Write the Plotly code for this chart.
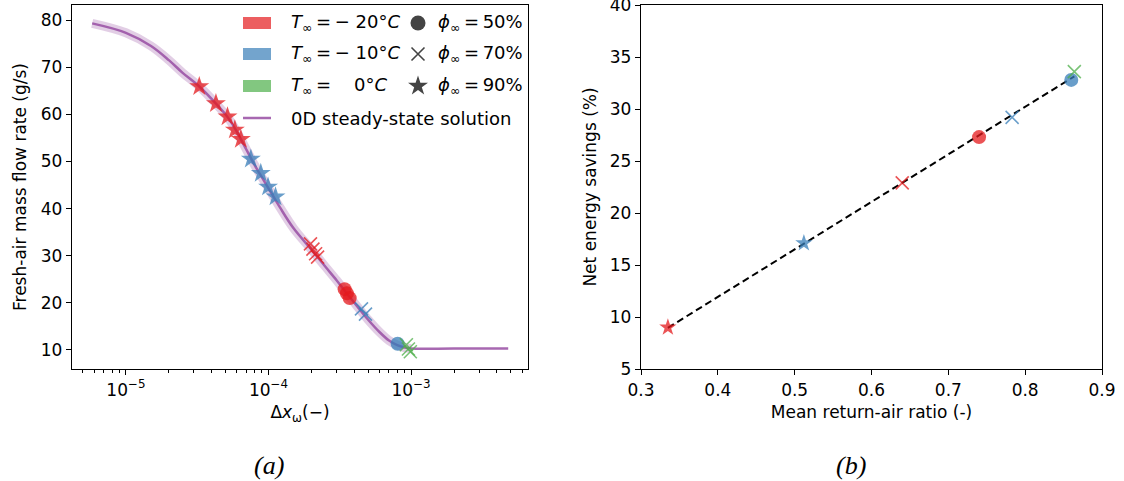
import numpy as np
import plotly.graph_objects as go

# ---------------- data ----------------
# Panel (a): 0D steady-state solution
curve_dx = [5.8e-6, 1.0e-5, 1.5e-5, 2.0e-5, 2.5e-5, 3.3e-5, 4.3e-5, 5.2e-5, 6.0e-5,
            7.0e-5, 8.0e-5, 9.0e-5, 1.0e-4, 1.2e-4, 1.5e-4, 2.0e-4, 2.5e-4, 3.0e-4,
            3.5e-4, 4.0e-4, 5.0e-4, 6.0e-4, 7.0e-4, 8.0e-4, 9.0e-4, 1.0e-3, 2.0e-3, 4.8e-3]
curve_m = [79.3, 77.3, 74.5, 71.5, 68.8, 65.8, 62.2, 59.3, 56.3,
           52.5, 49.2, 46.6, 44.3, 40.3, 35.8, 31.3, 27.7, 24.8,
           22.2, 20.0, 16.4, 13.8, 12.0, 11.0, 10.5, 10.3, 10.3, 10.3]

# Panel (a): simulation points
red_star_dx = [3.27e-5, 4.28e-5, 5.16e-5, 5.81e-5, 6.4e-5]
red_star_m = [65.9, 62.3, 59.5, 56.7, 54.7]
blue_star_dx = [7.52e-5, 8.83e-5, 9.93e-5, 1.12e-4]
blue_star_m = [50.5, 47.5, 44.6, 42.5]
red_x_dx = [1.97e-4, 2.05e-4, 2.14e-4, 2.21e-4]
red_x_m = [32.5, 31.4, 30.4, 29.7]
red_o_dx = [3.42e-4, 3.55e-4, 3.71e-4]
red_o_m = [22.9, 22.0, 21.0]
blue_x_dx = [4.49e-4, 4.79e-4]
blue_x_m = [18.7, 17.6]
blue_o_dx = [8.05e-4]
blue_o_m = [11.3]
green_x_dx = [9.27e-4, 9.58e-4, 9.88e-4]
green_x_m = [11.1, 10.2, 9.6]

# Panel (b): mean return-air ratio vs net energy savings
b_ratio = [0.335, 0.512, 0.64, 0.74, 0.783, 0.86, 0.864]
b_savings = [9.0, 17.1, 22.9, 27.3, 29.2, 32.8, 33.6]
b_temp = ["-20", "-10", "-20", "-20", "-10", "-10", "0"]
b_phi = [90, 90, 70, 50, 70, 50, 70]

# axis ticks
a_xticks = [1e-5, 1e-4, 1e-3]
a_xticktext = ["10<sup>−5</sup>", "10<sup>−4</sup>", "10<sup>−3</sup>"]
a_yticks = [10, 20, 30, 40, 50, 60, 70, 80]
b_xticks = [0.3, 0.4, 0.5, 0.6, 0.7, 0.8, 0.9]
b_yticks = [5, 10, 15, 20, 25, 30, 35, 40]

# ---------------- style ----------------
W, H = 1124, 481
FONT = "DejaVu Sans"
RED = "rgba(228,26,28,0.75)"
BLUE = "rgba(55,126,184,0.75)"
GREEN = "rgba(77,175,74,0.75)"
PURPLE = "rgba(152,78,163,0.85)"
PURPLE_BAND = "rgba(152,78,163,0.28)"
temp_color = {"-20": RED, "-10": BLUE, "0": GREEN}
phi_symbol = {50: "circle", 70: "x-thin", 90: "star"}


def xd(px):
    return px / W


def yd(py):
    return 1 - py / H


fig = go.Figure()

# band + curve
n_band = sum(1 for v in curve_dx if v <= 1.0e-3)
fig.add_trace(go.Scatter(x=curve_dx[:n_band], y=curve_m[:n_band], mode="lines",
                         line=dict(color=PURPLE_BAND, width=9, shape="spline"),
                         xaxis="x", yaxis="y", showlegend=False))
fig.add_trace(go.Scatter(x=curve_dx, y=curve_m, mode="lines",
                         line=dict(color=PURPLE, width=2.5, shape="spline"),
                         xaxis="x", yaxis="y", showlegend=False))


def add_pts(xs, ys, color, symbol, xa, ya, size):
    if symbol == "x-thin":
        marker = dict(symbol="x-thin", size=size, color=color,
                      line=dict(color=color, width=1.6))
    else:
        marker = dict(symbol=symbol, size=size, color=color, line=dict(width=0))
    fig.add_trace(go.Scatter(x=xs, y=ys, mode="markers", marker=marker,
                             xaxis=xa, yaxis=ya, showlegend=False))


add_pts(red_star_dx, red_star_m, RED, "star", "x", "y", 15)
add_pts(blue_star_dx, blue_star_m, BLUE, "star", "x", "y", 15)
add_pts(red_x_dx, red_x_m, RED, "x-thin", "x", "y", 13)
add_pts(red_o_dx, red_o_m, RED, "circle", "x", "y", 14)
add_pts(blue_x_dx, blue_x_m, BLUE, "x-thin", "x", "y", 13)
add_pts(blue_o_dx, blue_o_m, BLUE, "circle", "x", "y", 14)
add_pts(green_x_dx, green_x_m, GREEN, "x-thin", "x", "y", 13)

# panel (b) fit line
coef = np.polyfit(b_ratio, b_savings, 1)
fx = [min(b_ratio), max(b_ratio)]
fy = [coef[0] * v + coef[1] for v in fx]
fig.add_trace(go.Scatter(x=fx, y=fy, mode="lines",
                         line=dict(color="black", width=2, dash="7px,4px"),
                         xaxis="x2", yaxis="y2", showlegend=False))
for r, s, t, p in zip(b_ratio, b_savings, b_temp, b_phi):
    add_pts([r], [s], temp_color[t], phi_symbol[p], "x2", "y2",
            14 if p == 50 else 13)

# ---------------- axes ----------------
ydom = [yd(369), yd(5)]
common = dict(showline=True, mirror=True, linecolor="black", linewidth=1.3,
              ticks="outside", ticklen=5, tickwidth=1.2, tickcolor="black",
              showgrid=False, zeroline=False, automargin=False,
              ticklabeloverflow="allow",
              tickfont=dict(family=FONT, size=17, color="black"))

minor_vals = []
for e in range(-6, -1):
    for k in range(2, 10):
        minor_vals.append(k * 10.0 ** e)

fig.update_layout(
    width=W, height=H, margin=dict(l=0, r=0, t=0, b=0, autoexpand=False),
    plot_bgcolor="rgba(0,0,0,0)", paper_bgcolor="white",
    xaxis=dict(domain=[xd(72), xd(528)], type="log", range=[-5.378, -2.18],
               tickvals=a_xticks, ticktext=a_xticktext, anchor="y",
               minor=dict(tickvals=minor_vals, ticks="outside", ticklen=3,
                          tickwidth=1, tickcolor="black", showgrid=False),
               title=dict(text="Δ<i>x</i><sub>ω</sub>(−)", standoff=7,
                          font=dict(family=FONT, size=17, color="black")),
               **common),
    yaxis=dict(domain=ydom, range=[5.95, 83.2], tickvals=a_yticks, anchor="x",
               title=dict(text="Fresh-air mass flow rate (g/s)", standoff=9,
                          font=dict(family=FONT, size=17, color="black")),
               **common),
    xaxis2=dict(domain=[xd(641), xd(1102)], range=[0.3, 0.9], tickvals=b_xticks,
                tickformat=".1f", anchor="y2",
                title=dict(text="Mean return-air ratio (-)", standoff=7,
                           font=dict(family=FONT, size=17, color="black")),
                **common),
    yaxis2=dict(domain=ydom, range=[5, 40], tickvals=b_yticks, anchor="x2",
                title=dict(text="Net energy savings (%)", standoff=8,
                           font=dict(family=FONT, size=17, color="black")),
                **common),
    xaxis3=dict(domain=[0, 1], range=[0, W], visible=False, anchor="y3",
                fixedrange=True),
    yaxis3=dict(domain=[0, 1], range=[H, 0], visible=False, anchor="x3",
                fixedrange=True),
)

# ---------------- legend (manual) ----------------
leg_rows = [23, 54, 86, 118]
leg_temps = ["-20", "-10", "0"]
leg_ttext = ["<i>T</i><sub>∞</sub>\u2009=\u2009−\u00a020°<i>C</i>",
             "<i>T</i><sub>∞</sub>\u2009=\u2009−\u00a010°<i>C</i>",
             "<i>T</i><sub>∞</sub>\u2009=\u00a0\u00a0\u00a0\u00a00°<i>C</i>"]
leg_phis = [50, 70, 90]
leg_ptext = ["<i>ϕ</i><sub>∞</sub>\u2009=\u200950%",
             "<i>ϕ</i><sub>∞</sub>\u2009=\u200970%",
             "<i>ϕ</i><sub>∞</sub>\u2009=\u200990%"]
LEG_PATCH = {"-20": "rgba(228,26,28,0.7)", "-10": "rgba(55,126,184,0.7)",
             "0": "rgba(77,175,74,0.7)"}

for row, t, tt, p, pt in zip(leg_rows, leg_temps, leg_ttext, leg_phis, leg_ptext):
    fig.add_shape(type="rect", xref="x3", yref="y3", x0=243, x1=271,
                  y0=row - 6, y1=row + 6, fillcolor=LEG_PATCH[t], line=dict(width=0))
    fig.add_annotation(xref="x3", yref="y3", x=289, y=row, text=tt, showarrow=False,
                       xanchor="left", yanchor="middle",
                       font=dict(family=FONT, size=18, color="black"))
    fig.add_annotation(xref="x3", yref="y3", x=436, y=row, text=pt, showarrow=False,
                       xanchor="left", yanchor="middle",
                       font=dict(family=FONT, size=18, color="black"))
    sym = phi_symbol[p]
    if sym == "x-thin":
        mk = dict(symbol=sym, size=13, color="#444", line=dict(color="#444", width=1.6))
    else:
        mk = dict(symbol=sym, size=15, color="#444", line=dict(width=0))
    fig.add_trace(go.Scatter(x=[418], y=[row], mode="markers", marker=mk,
                             xaxis="x3", yaxis="y3", showlegend=False))

fig.add_shape(type="line", xref="x3", yref="y3", x0=243, x1=271, y0=leg_rows[3],
              y1=leg_rows[3], line=dict(color=PURPLE, width=2.5))
fig.add_annotation(xref="x3", yref="y3", x=289, y=leg_rows[3],
                   text="0D steady-state solution", showarrow=False,
                   xanchor="left", yanchor="middle",
                   font=dict(family=FONT, size=18, color="black"))

# panel labels
for lx, lab in [(269, "(a)"), (851, "(b)")]:
    fig.add_annotation(xref="paper", yref="paper", x=xd(lx), y=yd(465),
                       text="<i>" + lab + "</i>", showarrow=False,
                       xanchor="center", yanchor="middle",
                       font=dict(family="Liberation Serif", size=26, color="black"))

fig.write_html("out.html")
